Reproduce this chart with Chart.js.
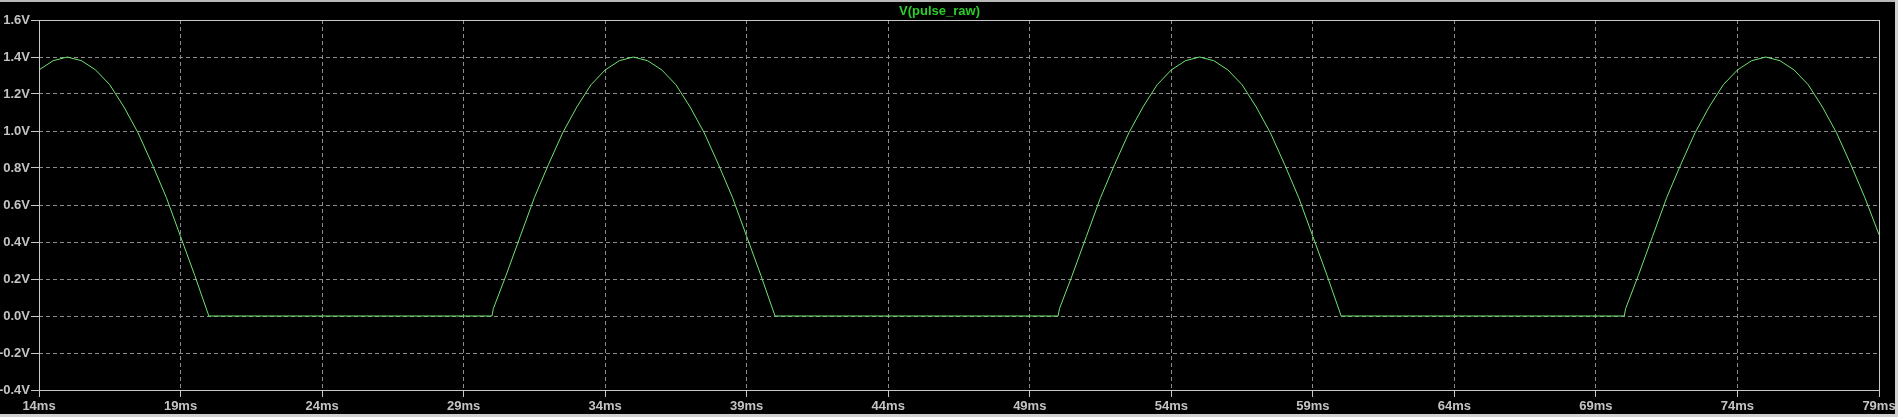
<!DOCTYPE html>
<html>
<head>
<meta charset="utf-8">
<title>V(pulse_raw)</title>
<script src="https://cdn.jsdelivr.net/npm/chart.js@4/dist/chart.umd.min.js"></script>
<style>
    html, body { margin: 0; padding: 0; background: #000; }
    #wrap { width: 1898px; height: 417px; }
</style>
</head>
<body>
<div id="wrap"><canvas id="waveChart" width="1898" height="417"></canvas></div>
<script>
// values (time in ms, voltage in V)
const timeMs = [
    14.0, 14.5, 15.0, 15.5, 16.0, 16.5, 17.0, 17.5, 18.0, 18.5, 19.0, 19.5, 20.0,
    30.0, 30.05, 30.5, 31.0, 31.5, 32.0, 32.5, 33.0, 33.5, 34.0, 34.5, 35.0,
    35.5, 36.0, 36.5, 37.0, 37.5, 38.0, 38.5, 39.0, 39.5, 40.0,
    50.0, 50.05, 50.5, 51.0, 51.5, 52.0, 52.5, 53.0, 53.5, 54.0, 54.5, 55.0,
    55.5, 56.0, 56.5, 57.0, 57.5, 58.0, 58.5, 59.0, 59.5, 60.0,
    70.0, 70.05, 70.5, 71.0, 71.5, 72.0, 72.5, 73.0, 73.5, 74.0, 74.5, 75.0,
    75.5, 76.0, 76.5, 77.0, 77.5, 78.0, 78.5, 79.0
];
const pulseRawV = [
    1.33, 1.38, 1.40, 1.38, 1.33, 1.25, 1.13, 0.99, 0.82, 0.64, 0.43, 0.22, 0.00,
    0.00, 0.04, 0.22, 0.43, 0.64, 0.82, 0.99, 1.13, 1.25, 1.33, 1.38, 1.40,
    1.38, 1.33, 1.25, 1.13, 0.99, 0.82, 0.64, 0.43, 0.22, 0.00,
    0.00, 0.04, 0.22, 0.43, 0.64, 0.82, 0.99, 1.13, 1.25, 1.33, 1.38, 1.40,
    1.38, 1.33, 1.25, 1.13, 0.99, 0.82, 0.64, 0.43, 0.22, 0.00,
    0.00, 0.04, 0.22, 0.43, 0.64, 0.82, 0.99, 1.13, 1.25, 1.33, 1.38, 1.40,
    1.38, 1.33, 1.25, 1.13, 0.99, 0.82, 0.64, 0.44
];
const xTicksMs = [14, 19, 24, 29, 34, 39, 44, 49, 54, 59, 64, 69, 74, 79];
const yTicksV = [-0.4, -0.2, 0.0, 0.2, 0.4, 0.6, 0.8, 1.0, 1.2, 1.4, 1.6];
const traceName = 'V(pulse_raw)';

const labelColor = '#c4c4c4';
const gridColor = '#8a8a8a';
const frameColor = '#c8c8c8';
const labelFont = { family: 'Liberation Sans, Arial, sans-serif', size: 13, weight: 'bold' };

// solid frame round the plot area and the light window edges
const framePlugin = {
    id: 'frame',
    afterDatasetsDraw(chart) {
        const ctx = chart.ctx;
        const a = chart.chartArea;
        ctx.save();
        ctx.strokeStyle = frameColor;
        ctx.lineWidth = 1;
        ctx.strokeRect(Math.round(a.left) + 0.5, Math.round(a.top) + 0.5,
            Math.round(a.right - a.left), Math.round(a.bottom - a.top));
        ctx.fillStyle = '#b8b8b8';
        ctx.fillRect(0, 0, chart.width, 2);
        ctx.fillStyle = '#d0d0d0';
        ctx.fillRect(chart.width - 3, 0, 3, chart.height);
        ctx.fillRect(0, chart.height - 3, chart.width, 3);
        ctx.restore();
    }
};

const ctx = document.getElementById('waveChart').getContext('2d');
new Chart(ctx, {
    type: 'line',
    data: {
        datasets: [{
            label: traceName,
            data: timeMs.map((t, i) => ({ x: t, y: pulseRawV[i] })),
            borderColor: 'rgb(112, 228, 112)',
            borderWidth: 1,
            pointRadius: 0,
            tension: 0,
            fill: false
        }]
    },
    options: {
        responsive: false,
        animation: false,
        layout: { padding: { left: 0, right: 19, top: 0, bottom: 0 } },
        plugins: {
            legend: { display: false },
            tooltip: { enabled: false },
            title: {
                display: true,
                text: traceName,
                color: '#2ccc2c',
                font: { family: 'Liberation Sans, Arial, sans-serif', size: 13, weight: 'bold', lineHeight: 1.2 },
                padding: { top: 3.6, bottom: 0.8 }
            }
        },
        scales: {
            x: {
                type: 'linear',
                min: 14,
                max: 79,
                afterBuildTicks: scale => { scale.ticks = xTicksMs.map(v => ({ value: v })); },
                afterFit: scale => { scale.height = 27; },
                ticks: {
                    color: labelColor,
                    font: labelFont,
                    padding: 2,
                    maxRotation: 0,
                    autoSkip: false,
                    callback: v => v + 'ms'
                },
                grid: {
                    color: gridColor,
                    lineWidth: 1,
                    drawTicks: true,
                    tickLength: 7,
                    tickColor: frameColor,
                    tickBorderDash: []
                },
                border: { display: false, dash: [4, 3] }
            },
            y: {
                min: -0.4,
                max: 1.6,
                afterBuildTicks: scale => { scale.ticks = yTicksV.map(v => ({ value: v })); },
                afterFit: scale => { scale.width = 39; },
                ticks: {
                    color: labelColor,
                    font: labelFont,
                    padding: 1,
                    autoSkip: false,
                    callback: v => v.toFixed(1) + 'V'
                },
                grid: {
                    color: gridColor,
                    lineWidth: 1,
                    drawTicks: true,
                    tickLength: 8,
                    tickColor: frameColor,
                    tickBorderDash: []
                },
                border: { display: false, dash: [4, 3] }
            }
        }
    },
    plugins: [framePlugin]
});
</script>
</body>
</html>
